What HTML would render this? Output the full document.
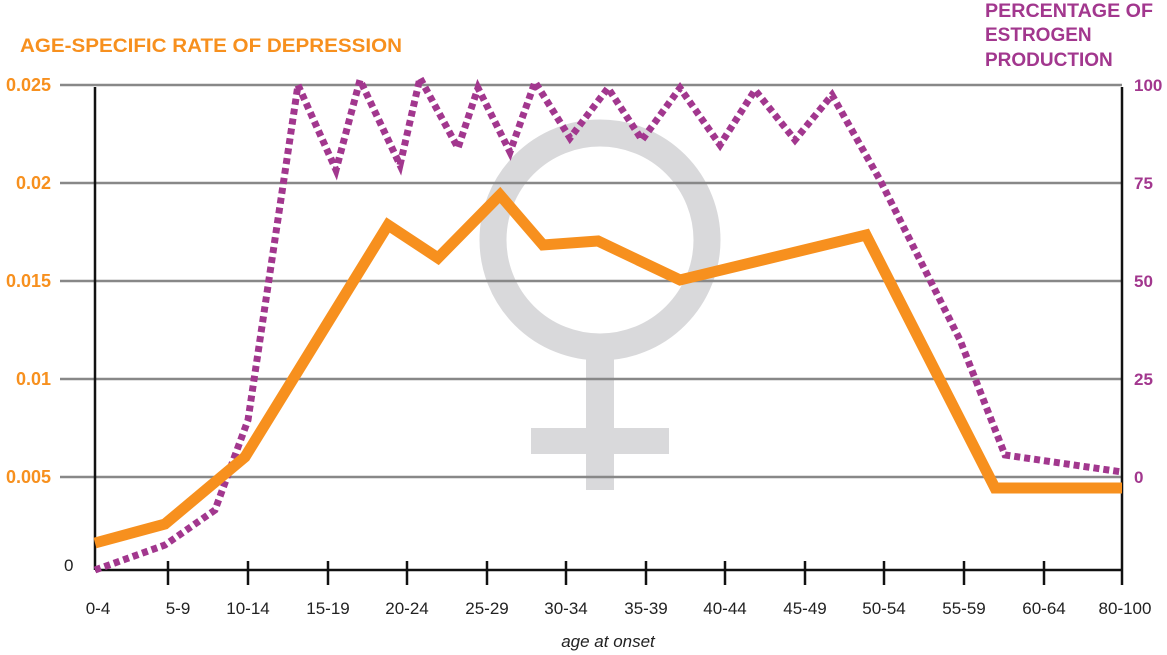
<!DOCTYPE html>
<html><head><style>body{margin:0;background:#fff}svg{display:block}</style></head><body>
<svg width="1167" height="655" viewBox="0 0 1167 655" xmlns="http://www.w3.org/2000/svg" font-family="Liberation Sans, sans-serif">
<rect width="1167" height="655" fill="#fff"/>
<g fill="none" stroke="#d9d9db">
<circle cx="600" cy="240" r="107" stroke-width="27"/>
</g>
<rect x="586" y="355" width="28" height="135" fill="#d9d9db"/>
<rect x="531" y="428" width="138" height="26" fill="#d9d9db"/>
<g stroke="#888" stroke-width="2.5">
<line x1="60" y1="85" x2="1122" y2="85"/><line x1="60" y1="183" x2="1122" y2="183"/>
<line x1="60" y1="281" x2="1122" y2="281"/><line x1="60" y1="379" x2="1122" y2="379"/>
<line x1="60" y1="477" x2="1122" y2="477"/>
</g>
<g stroke="#111" stroke-width="2.5">
<line x1="95" y1="87" x2="95" y2="570"/><line x1="1122" y1="87" x2="1122" y2="585"/>
<line x1="95" y1="570" x2="1122" y2="570"/>
<line x1="168" y1="561" x2="168" y2="585"/><line x1="248" y1="561" x2="248" y2="585"/><line x1="328" y1="561" x2="328" y2="585"/><line x1="407" y1="561" x2="407" y2="585"/><line x1="487" y1="561" x2="487" y2="585"/><line x1="566" y1="561" x2="566" y2="585"/><line x1="646" y1="561" x2="646" y2="585"/><line x1="725" y1="561" x2="725" y2="585"/><line x1="805" y1="561" x2="805" y2="585"/><line x1="884" y1="561" x2="884" y2="585"/><line x1="964" y1="561" x2="964" y2="585"/><line x1="1044" y1="561" x2="1044" y2="585"/>
</g>
<polyline fill="none" stroke="#a2378e" stroke-width="7" stroke-dasharray="6 4" points="95,570 165,545 215,510 248,420 298,85 336,170 360,80 400,165 420,78 458,148 478,88 510,152 535,82 570,138 608,88 642,140 680,88 720,145 755,90 795,140 832,95 880,180 960,340 1005,455 1122,472"/>
<polyline fill="none" stroke="#f7901e" stroke-width="11" stroke-linejoin="miter" points="95,543 165,524 245,457 388,225 438,258 500,195 543,245 598,241 680,280 866,235 995,488 1122,488"/>
<g fill="#f7901e" font-weight="bold" font-size="18">
<text x="20" y="52" font-size="19" textLength="382" lengthAdjust="spacingAndGlyphs">AGE-SPECIFIC RATE OF DEPRESSION</text>
<text x="51" y="91" text-anchor="end">0.025</text><text x="51" y="189" text-anchor="end">0.02</text><text x="51" y="287" text-anchor="end">0.015</text><text x="51" y="385" text-anchor="end">0.01</text><text x="51" y="483" text-anchor="end">0.005</text>
</g>
<text x="64" y="571" font-size="17" fill="#222">0</text>
<g fill="#a2378e" font-weight="bold" font-size="19">
<text x="985" y="17" textLength="168" lengthAdjust="spacingAndGlyphs">PERCENTAGE OF</text><text x="985" y="41">ESTROGEN</text><text x="985" y="66">PRODUCTION</text>
<text x="1134" y="91" font-size="17">100</text><text x="1134" y="189" font-size="17">75</text><text x="1134" y="287" font-size="17">50</text><text x="1134" y="385" font-size="17">25</text><text x="1134" y="483" font-size="17">0</text>
</g>
<g font-size="17" fill="#222" text-anchor="middle">
<text x="98" y="614">0-4</text><text x="178" y="614">5-9</text><text x="248" y="614">10-14</text><text x="328" y="614">15-19</text><text x="407" y="614">20-24</text><text x="487" y="614">25-29</text><text x="566" y="614">30-34</text><text x="646" y="614">35-39</text><text x="725" y="614">40-44</text><text x="805" y="614">45-49</text><text x="884" y="614">50-54</text><text x="964" y="614">55-59</text><text x="1044" y="614">60-64</text><text x="1125" y="614">80-100</text>
<text x="608" y="647" font-style="italic">age at onset</text>
</g>
</svg>
</body></html>
